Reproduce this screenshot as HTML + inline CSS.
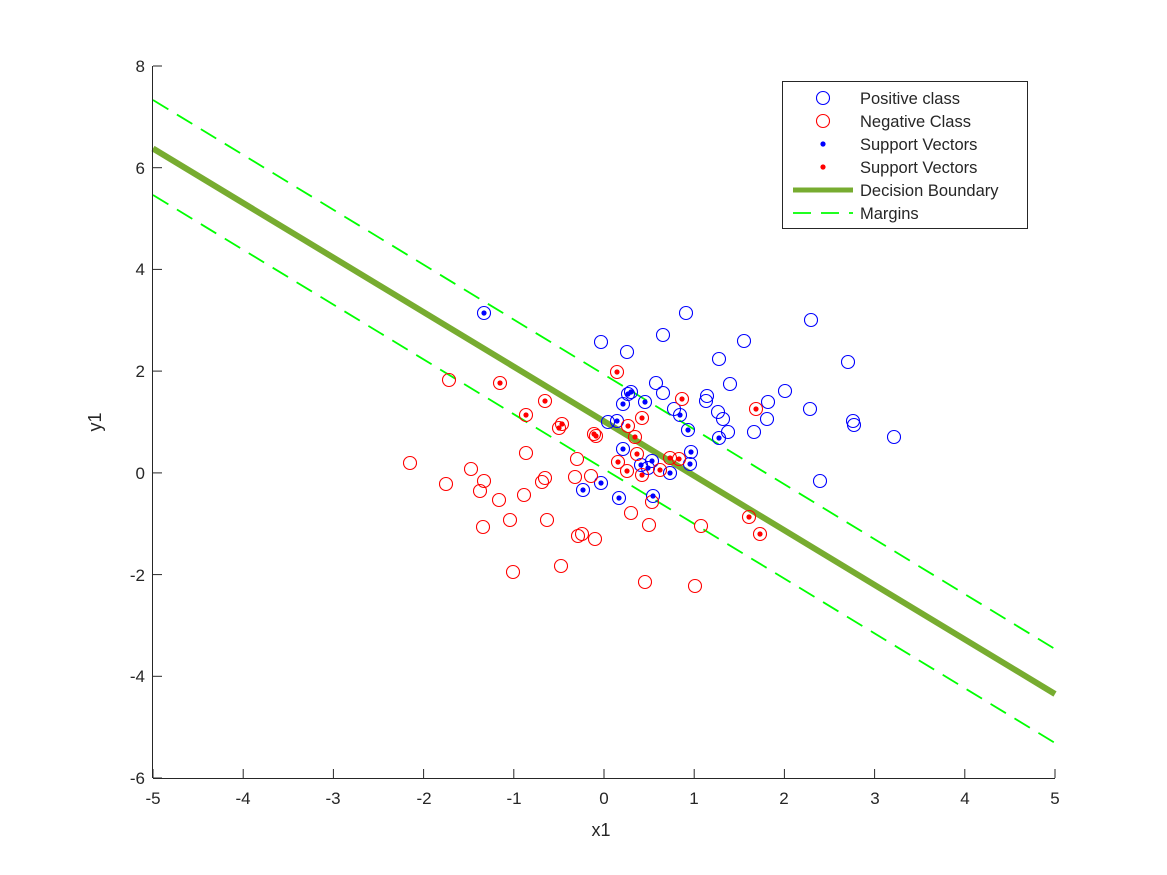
<!DOCTYPE html>
<html><head><meta charset="utf-8"><style>body{margin:0;background:#fff}svg{display:block}text{font-family:"Liberation Sans",sans-serif;fill:#262626}</style></head><body>
<svg width="1167" height="875" viewBox="0 0 1167 875" xmlns="http://www.w3.org/2000/svg">
<rect width="1167" height="875" fill="#fff"/>
<g stroke-width="1.2" fill="none">
<line x1="153" y1="100" x2="1055" y2="649" stroke="#00ff00" stroke-width="1.8" stroke-dasharray="18,10"/>
<line x1="153" y1="195" x2="1055" y2="743" stroke="#00ff00" stroke-width="1.8" stroke-dasharray="18,10"/>
<line x1="153" y1="148.5" x2="1055" y2="694" stroke="#77ac30" stroke-width="6"/>
</g>
<g id="blue" fill="none" stroke="#0000ff" stroke-width="1.1">
<circle cx="601" cy="342" r="6.5"/><circle cx="627" cy="352" r="6.5"/><circle cx="663" cy="335" r="6.5"/><circle cx="686" cy="313" r="6.5"/><circle cx="719" cy="359" r="6.5"/><circle cx="744" cy="341" r="6.5"/><circle cx="811" cy="320" r="6.5"/><circle cx="848" cy="362" r="6.5"/><circle cx="730" cy="384" r="6.5"/><circle cx="656" cy="383" r="6.5"/><circle cx="663" cy="393" r="6.5"/><circle cx="707" cy="396" r="6.5"/><circle cx="706" cy="401" r="6.5"/><circle cx="674" cy="409" r="6.5"/><circle cx="718" cy="412" r="6.5"/><circle cx="723" cy="419" r="6.5"/><circle cx="728" cy="432" r="6.5"/><circle cx="754" cy="432" r="6.5"/><circle cx="768" cy="402" r="6.5"/><circle cx="767" cy="419" r="6.5"/><circle cx="785" cy="391" r="6.5"/><circle cx="810" cy="409" r="6.5"/><circle cx="853" cy="421" r="6.5"/><circle cx="854" cy="425" r="6.5"/><circle cx="894" cy="437" r="6.5"/><circle cx="820" cy="481" r="6.5"/><circle cx="608" cy="422" r="6.5"/>
<circle cx="484" cy="313" r="6.5"/><circle cx="628" cy="394" r="6.5"/><circle cx="631" cy="392" r="6.5"/><circle cx="623" cy="404" r="6.5"/><circle cx="645" cy="402" r="6.5"/><circle cx="617" cy="421" r="6.5"/><circle cx="680" cy="415" r="6.5"/><circle cx="688" cy="430" r="6.5"/><circle cx="719" cy="438" r="6.5"/><circle cx="623" cy="449" r="6.5"/><circle cx="691" cy="452" r="6.5"/><circle cx="690" cy="464" r="6.5"/><circle cx="641" cy="465" r="6.5"/><circle cx="652" cy="461" r="6.5"/><circle cx="648" cy="468" r="6.5"/><circle cx="670" cy="473" r="6.5"/><circle cx="601" cy="483" r="6.5"/><circle cx="583" cy="490" r="6.5"/><circle cx="619" cy="498" r="6.5"/><circle cx="653" cy="496" r="6.5"/>
</g>
<g fill="none" stroke="#ff0000" stroke-width="1.1">
<circle cx="617" cy="372" r="6.5"/><circle cx="682" cy="399" r="6.5"/><circle cx="756" cy="409" r="6.5"/><circle cx="642" cy="418" r="6.5"/><circle cx="628" cy="426" r="6.5"/><circle cx="594" cy="434" r="6.5"/><circle cx="596" cy="436" r="6.5"/><circle cx="635" cy="437" r="6.5"/><circle cx="637" cy="454" r="6.5"/><circle cx="618" cy="462" r="6.5"/><circle cx="627" cy="471" r="6.5"/><circle cx="642" cy="475" r="6.5"/><circle cx="660" cy="470" r="6.5"/><circle cx="679" cy="459" r="6.5"/><circle cx="670" cy="458" r="6.5"/><circle cx="749" cy="517" r="6.5"/><circle cx="760" cy="534" r="6.5"/><circle cx="500" cy="383" r="6.5"/><circle cx="545" cy="401" r="6.5"/><circle cx="526" cy="415" r="6.5"/><circle cx="562" cy="424" r="6.5"/><circle cx="559" cy="428" r="6.5"/>
<circle cx="449" cy="380" r="6.5"/><circle cx="410" cy="463" r="6.5"/><circle cx="446" cy="484" r="6.5"/><circle cx="471" cy="469" r="6.5"/><circle cx="484" cy="481" r="6.5"/><circle cx="480" cy="491" r="6.5"/><circle cx="499" cy="500" r="6.5"/><circle cx="526" cy="453" r="6.5"/><circle cx="524" cy="495" r="6.5"/><circle cx="510" cy="520" r="6.5"/><circle cx="483" cy="527" r="6.5"/><circle cx="547" cy="520" r="6.5"/><circle cx="545" cy="478" r="6.5"/><circle cx="542" cy="482" r="6.5"/><circle cx="577" cy="459" r="6.5"/><circle cx="575" cy="477" r="6.5"/><circle cx="591" cy="476" r="6.5"/><circle cx="578" cy="536" r="6.5"/><circle cx="582" cy="534" r="6.5"/><circle cx="595" cy="539" r="6.5"/><circle cx="561" cy="566" r="6.5"/><circle cx="513" cy="572" r="6.5"/><circle cx="645" cy="582" r="6.5"/><circle cx="631" cy="513" r="6.5"/><circle cx="649" cy="525" r="6.5"/><circle cx="701" cy="526" r="6.5"/><circle cx="695" cy="586" r="6.5"/><circle cx="652" cy="502" r="6.5"/>
</g>
<g fill="#0000ff">
<circle cx="484" cy="313" r="2.6"/><circle cx="628" cy="394" r="2.6"/><circle cx="631" cy="392" r="2.6"/><circle cx="623" cy="404" r="2.6"/><circle cx="645" cy="402" r="2.6"/><circle cx="617" cy="421" r="2.6"/><circle cx="680" cy="415" r="2.6"/><circle cx="688" cy="430" r="2.6"/><circle cx="719" cy="438" r="2.6"/><circle cx="623" cy="449" r="2.6"/><circle cx="691" cy="452" r="2.6"/><circle cx="690" cy="464" r="2.6"/><circle cx="641" cy="465" r="2.6"/><circle cx="652" cy="461" r="2.6"/><circle cx="648" cy="468" r="2.6"/><circle cx="670" cy="473" r="2.6"/><circle cx="601" cy="483" r="2.6"/><circle cx="583" cy="490" r="2.6"/><circle cx="619" cy="498" r="2.6"/><circle cx="653" cy="496" r="2.6"/>
</g>
<g fill="#ff0000">
<circle cx="617" cy="372" r="2.6"/><circle cx="682" cy="399" r="2.6"/><circle cx="756" cy="409" r="2.6"/><circle cx="642" cy="418" r="2.6"/><circle cx="628" cy="426" r="2.6"/><circle cx="594" cy="434" r="2.6"/><circle cx="596" cy="436" r="2.6"/><circle cx="635" cy="437" r="2.6"/><circle cx="637" cy="454" r="2.6"/><circle cx="618" cy="462" r="2.6"/><circle cx="627" cy="471" r="2.6"/><circle cx="642" cy="475" r="2.6"/><circle cx="660" cy="470" r="2.6"/><circle cx="679" cy="459" r="2.6"/><circle cx="670" cy="458" r="2.6"/><circle cx="749" cy="517" r="2.6"/><circle cx="760" cy="534" r="2.6"/><circle cx="500" cy="383" r="2.6"/><circle cx="545" cy="401" r="2.6"/><circle cx="526" cy="415" r="2.6"/><circle cx="562" cy="424" r="2.6"/><circle cx="559" cy="428" r="2.6"/>
</g>
<!-- axes -->
<g stroke="#262626" stroke-width="1">
<line x1="153" y1="778.5" x2="1055" y2="778.5"/><line x1="152.5" y1="66" x2="152.5" y2="778"/>
<line x1="153" y1="778" x2="153" y2="769"/><line x1="243.2" y1="778" x2="243.2" y2="769"/><line x1="333.4" y1="778" x2="333.4" y2="769"/><line x1="423.6" y1="778" x2="423.6" y2="769"/><line x1="513.8" y1="778" x2="513.8" y2="769"/><line x1="604" y1="778" x2="604" y2="769"/><line x1="694.2" y1="778" x2="694.2" y2="769"/><line x1="784.4" y1="778" x2="784.4" y2="769"/><line x1="874.6" y1="778" x2="874.6" y2="769"/><line x1="964.8" y1="778" x2="964.8" y2="769"/><line x1="1055" y1="778" x2="1055" y2="769"/>
<line x1="153" y1="66" x2="162" y2="66"/><line x1="153" y1="167.7" x2="162" y2="167.7"/><line x1="153" y1="269.4" x2="162" y2="269.4"/><line x1="153" y1="371.1" x2="162" y2="371.1"/><line x1="153" y1="472.9" x2="162" y2="472.9"/><line x1="153" y1="574.6" x2="162" y2="574.6"/><line x1="153" y1="676.3" x2="162" y2="676.3"/><line x1="153" y1="778" x2="162" y2="778"/>
</g>
<g font-size="17" text-anchor="middle">
<text x="153" y="804">-5</text><text x="243" y="804">-4</text><text x="333" y="804">-3</text><text x="424" y="804">-2</text><text x="514" y="804">-1</text><text x="604" y="804">0</text><text x="694" y="804">1</text><text x="784" y="804">2</text><text x="875" y="804">3</text><text x="965" y="804">4</text><text x="1055" y="804">5</text>
<text x="601" y="836" font-size="18">x1</text>
<text transform="translate(101,422) rotate(-90)" font-size="18">y1</text>
</g>
<g font-size="17" text-anchor="end">
<text x="145" y="72">8</text><text x="145" y="174">6</text><text x="145" y="275">4</text><text x="145" y="377">2</text><text x="145" y="479">0</text><text x="145" y="581">-2</text><text x="145" y="682">-4</text><text x="145" y="784">-6</text>
</g>
<!-- legend -->
<rect x="782.5" y="81.5" width="245" height="147" fill="#fff" stroke="#262626" stroke-width="1"/>
<circle cx="823" cy="98" r="6.5" fill="none" stroke="#0000ff" stroke-width="1.1"/>
<circle cx="823" cy="121" r="6.5" fill="none" stroke="#ff0000" stroke-width="1.1"/>
<circle cx="823" cy="144" r="2.6" fill="#0000ff"/>
<circle cx="823" cy="167" r="2.6" fill="#ff0000"/>
<line x1="793" y1="190" x2="853" y2="190" stroke="#77ac30" stroke-width="5"/>
<line x1="793" y1="213" x2="853" y2="213" stroke="#00ff00" stroke-width="1.8" stroke-dasharray="18,10"/>
<g font-size="16.5">
<text x="860" y="104">Positive class</text><text x="860" y="127">Negative Class</text><text x="860" y="150">Support Vectors</text><text x="860" y="173">Support Vectors</text><text x="860" y="196">Decision Boundary</text><text x="860" y="219">Margins</text>
</g>
</svg>
</body></html>
